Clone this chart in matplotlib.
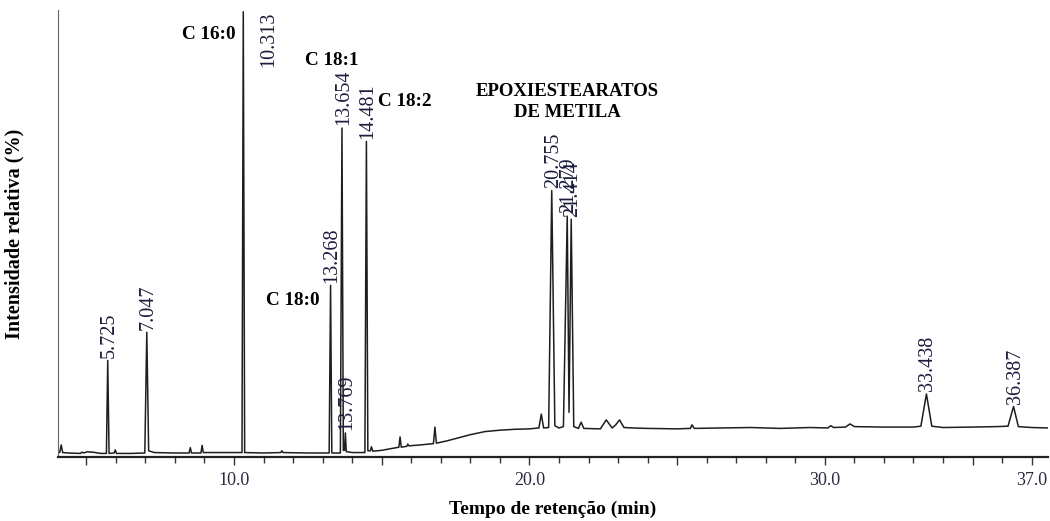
import matplotlib.pyplot as plt

plt.rcParams['font.family'] = ['Liberation Serif', 'DejaVu Serif']

# chromatogram trace: retention time (min), relative intensity (%)
trace_t = [4.04, 4.10, 4.15, 4.20, 4.40, 4.80, 4.85, 4.90, 5.05, 5.10, 5.20, 5.50, 5.68, 5.725, 5.77,
           5.94, 5.98, 6.02, 6.50, 6.98, 7.047, 7.11, 7.30, 8.00, 8.48, 8.52, 8.56, 8.88, 8.92, 8.96,
           9.50, 10.27, 10.313, 10.36, 11.00, 11.58, 11.62, 11.66, 12.50, 13.22, 13.268, 13.31, 13.60,
           13.654, 13.70, 13.74, 13.769, 13.80, 14.00, 14.43, 14.481, 14.53, 14.62, 14.65, 14.70, 15.00,
           15.50, 15.58, 15.62, 15.66, 15.85, 15.88, 15.92, 16.30, 16.75, 16.80, 16.85, 17.20, 17.60,
           18.00, 18.50, 19.00, 19.50, 20.00, 20.32, 20.40, 20.48, 20.65, 20.755, 20.86, 21.00, 21.15,
           21.279, 21.34, 21.414, 21.50, 21.66, 21.75, 21.84, 22.40, 22.60, 22.80, 22.92, 23.05, 23.20,
           23.50, 24.00, 25.00, 25.45, 25.50, 25.58, 26.50, 27.50, 28.50, 29.50, 30.10, 30.20, 30.30,
           30.70, 30.85, 31.00, 32.00, 33.00, 33.25, 33.438, 33.62, 34.00, 35.00, 35.80, 36.20, 36.387,
           36.55, 37.00, 37.55]
trace_y = [1.3, 1.0, 2.7, 1.0, 0.9, 0.8, 1.1, 0.9, 1.2, 1.1, 1.1, 0.8, 0.8, 21.6, 0.8,
           0.9, 1.6, 0.8, 0.8, 0.9, 27.9, 1.4, 1.0, 0.9, 0.9, 2.1, 0.9, 0.9, 2.6, 1.0,
           1.0, 1.0, 99.6, 1.0, 0.9, 1.0, 1.4, 1.0, 0.9, 0.9, 38.4, 0.9, 0.9,
           73.6, 1.5, 1.5, 5.4, 1.2, 1.0, 1.0, 70.6, 1.4, 1.4, 2.3, 1.3, 1.5,
           2.1, 2.2, 4.5, 2.2, 2.4, 2.9, 2.5, 2.7, 3.0, 6.7, 3.1, 3.6, 4.3,
           5.0, 5.7, 6.0, 6.2, 6.3, 6.5, 9.6, 6.5, 6.6, 59.6, 7.0, 6.5, 6.8,
           53.9, 10.0, 53.2, 6.8, 6.4, 7.8, 6.4, 6.3, 8.3, 6.5, 7.2, 8.3, 6.6,
           6.5, 6.4, 6.3, 6.4, 7.2, 6.4, 6.5, 6.6, 6.4, 6.6, 6.5, 7.0, 6.6,
           6.7, 7.4, 6.8, 6.7, 6.7, 6.9, 14.1, 6.9, 6.6, 6.7, 6.8, 6.9, 11.3,
           6.8, 6.6, 6.5]

# labelled peaks
peak_rt = [5.725, 7.047, 13.268, 13.654, 13.769, 14.481, 20.755, 21.279, 21.414, 33.438, 36.387]
peak_top = [21.6, 27.9, 38.4, 73.6, 5.4, 70.6, 59.6, 53.9, 53.2, 14.1, 11.3]
peak_text = ["5.725", "7.047", "13.268", "13.654", "13.769", "14.481", "20.755", "21.279", "21.414",
             "33.438", "36.387"]

# compound names: text, retention time, intensity, horizontal alignment
compounds = [("C 16:0", 10.05, 94.5, "right"),
             ("C 18:1", 14.2, 88.6, "right"),
             ("C 18:2", 14.87, 79.6, "left"),
             ("C 18:0", 12.91, 35.1, "right")]
epoxi_text = "EPOXIESTEARATOS\nDE METILA"

fig = plt.figure(figsize=(10.5, 5.21), dpi=100)
ax = fig.add_axes([0.0552, 0.1228, 0.9428, 0.858])

ax.plot(trace_t, trace_y, color="#1e1e1e", linewidth=1.1)

ax.set_xlim(4.04, 37.55)
ax.set_ylim(0, 100)

for rt, top, txt in zip(peak_rt, peak_top, peak_text):
    ax.text(rt + 0.05, top + 0.6, txt, rotation=90, ha="center", va="bottom",
            fontsize=14.5, color="#1c1c3c")
# the tallest peak has its label beside it
ax.text(11.17, 99.6, "10.313", rotation=90, ha="center", va="top", fontsize=14.5, color="#1c1c3c")

for txt, x, y, ha in compounds:
    ax.text(x, y, txt, ha=ha, va="center", fontsize=13.8, fontweight="bold")
ax.text(21.27, 79.5, epoxi_text, ha="center", va="center", fontsize=13.5,
        fontweight="bold", linespacing=1.3)

major = [5, 10, 15, 20, 25, 30, 35, 37]
major_labels = ["", "10.0", "", "20.0", "", "30.0", "", "37.0"]
ax.set_xticks(major)
ax.set_xticklabels(major_labels)
ax.set_xticks(list(range(5, 38)), minor=True)
ax.tick_params(axis="x", which="major", length=6, width=1, color="#333333",
               labelsize=13, labelcolor="#2a2a40", pad=5)
ax.tick_params(axis="x", which="minor", length=4, width=1, color="#333333")
ax.set_yticks([])

ax.spines["top"].set_visible(False)
ax.spines["right"].set_visible(False)
ax.spines["left"].set_color("#666666")
ax.spines["bottom"].set_color("#222222")
ax.spines["bottom"].set_linewidth(1.6)

ax.set_xlabel("Tempo de retenção (min)", fontsize=14, fontweight="bold", labelpad=8)
ax.set_ylabel("Intensidade relativa (%)", fontsize=14.5, fontweight="bold", labelpad=24)

fig.savefig("out.png", dpi=100)
